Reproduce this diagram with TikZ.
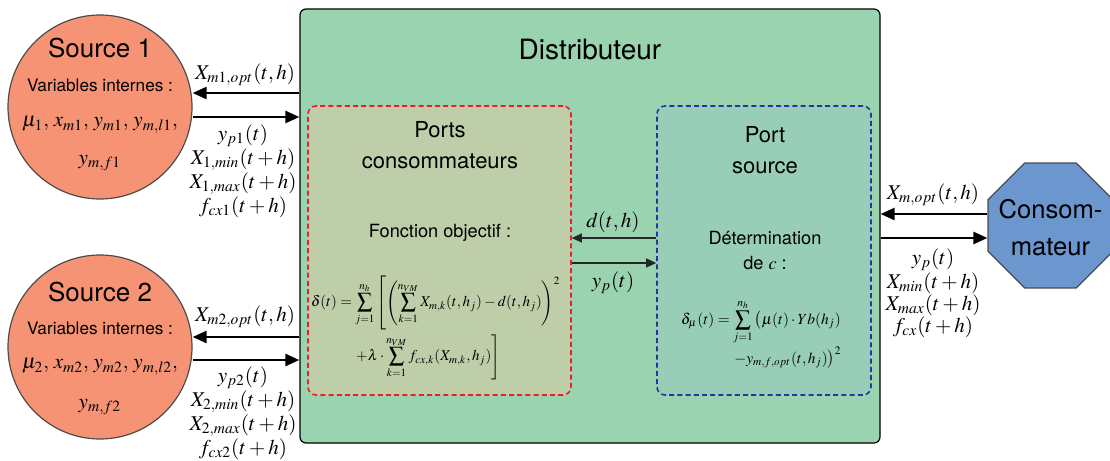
\documentclass[tikz,border=0pt]{standalone}
\usepackage{mathptmx}
\usepackage[no-math]{fontspec}
\setmainfont{TeX Gyre Heros}
\usepackage{graphicx}
\usetikzlibrary{arrows.meta,shapes.geometric}
\definecolor{distgreen}{RGB}{154,211,175}
\definecolor{salmon}{RGB}{246,147,116}
\definecolor{redfill}{RGB}{190,206,168}
\definecolor{bluefill}{RGB}{152,206,184}
\definecolor{consblue}{RGB}{108,150,206}
\definecolor{portred}{RGB}{232,32,40}
\definecolor{portblue}{RGB}{40,52,160}
\tikzset{
  srcbox/.style={circle, draw=black!70, line width=0.6pt, fill=salmon, minimum size=92pt, inner sep=0pt},
  distbox/.style={rectangle, rounded corners=3pt, draw=black, line width=0.6pt, fill=distgreen, inner sep=0pt},
  portbox/.style={rectangle, rounded corners=4pt, line width=0.8pt, dash pattern=on 2.5pt off 1.6pt, inner sep=0pt},
  consbox/.style={regular polygon, regular polygon sides=8, draw=black!70, line width=0.6pt, fill=consblue, minimum size=67.6pt, inner sep=0pt},
  constext/.style={inner sep=0pt, align=center, font=\fontsize{12.8}{18.5}\selectfont},
  bigarrow/.style={-{Triangle[length=7pt,width=6pt]}, line width=1.2pt},
  smallarrow/.style={-{Triangle[length=5pt,width=4.5pt]}, line width=0.55pt, draw=black!85},
  lab/.style={font=\fontsize{10.5}{10.9}\selectfont, inner sep=0pt, align=center},
  bigtitle/.style={font=\fontsize{14}{16}\selectfont, inner sep=0pt},
  srctitle/.style={font=\fontsize{13}{15}\selectfont, inner sep=0pt},
  porttitle/.style={font=\fontsize{11}{15.2}\selectfont, inner sep=0pt, align=center},
  small/.style={font=\fontsize{8.6}{10}\selectfont, inner sep=0pt},
  midtext/.style={font=\fontsize{9.1}{12.5}\selectfont, inner sep=0pt, align=center},
  formula/.style={font=\fontsize{7.5}{9}\selectfont, inner sep=0pt},
  formulab/.style={font=\fontsize{7.7}{9}\selectfont, inner sep=0pt},
}
\begin{document}
\begin{tikzpicture}[x=0.5pt,y=-0.5pt]
\useasboundingbox (0,0) rectangle (1110,461);

% Distributeur
\node[distbox, minimum width=290pt, minimum height=217pt] (dist) at (590,226) {};
\node[bigtitle] (distt) at (590,50) {Distributeur};

% Port boxes
\node[portbox, draw=portred, fill=redfill, minimum width=131.5pt, minimum height=144.5pt] (red) at (439.5,250.5) {};
\node[portbox, draw=portblue, fill=bluefill, minimum width=107pt, minimum height=144.5pt] (blue) at (764,250.5) {};

\node[porttitle] (redt) at (440,145) {Ports\\consommateurs};
\node[midtext] (fobj) at (440,233) {Fonction objectif :};
\node[formula] (f1) at (437,303) {$\displaystyle \delta(t)=\sum_{j=1}^{n_h}\left[\left(\sum_{k=1}^{n_{VM}}X_{m,k}(t,h_j)-d(t,h_j)\right)^{2}\right.$};
\node[formula] (f2) at (427,357) {$\displaystyle \left.+\lambda\cdot\sum_{k=1}^{n_{VM}}f_{cx,k}(X_{m,k},h_j)\right]$};

\node[porttitle] (bluet) at (765,150) {Port\\source};
\node[midtext] (det) at (765,250) {Détermination\\de $c$ :};
\node[formulab] (g1) at (761,322) {$\displaystyle \delta_\mu(t)=\sum_{j=1}^{n_h}\big(\mu(t)\cdot Yb(h_j)$};
\node[formulab] (g2) at (788,358) {$-y_{m,f,opt}(t,h_j)\big)^{2}$};

% middle arrows
\draw[smallarrow] (blue.west |- 600,238) -- (red.east |- 600,238);
\draw[smallarrow] (red.east |- 600,263) -- (blue.west |- 600,263);
\node[lab] (dlab) at (613,222) {$d(t,h)$};
\node[lab] (yplab) at (613,283) {$y_p(t)$};

% Source 1
\node[srcbox] (s1) at (100,107) {};
\node[srctitle] at (100,48) {Source 1};
\node[small] at (100,85) {Variables internes :};
\node[lab] at (100,125) {$\mu_1,\, x_{m1},\, y_{m1},\, y_{m,l1},$};
\node[lab] at (100,163) {$y_{m,f1}$};
\draw[bigarrow] (dist.west |- 0,93) -- (s1.east |- 0,93);
\draw[bigarrow] (s1.east |- 0,117) -- (dist.west |- 0,117);
\node[lab] at (245,75) {$X_{m1,opt}(t,h)$};
\node[lab] at (243,171) {$y_{p1}(t)$\\$X_{1,min}(t+h)$\\$X_{1,max}(t+h)$\\$f_{cx1}(t+h)$};

% Source 2
\node[srcbox] (s2) at (100,347) {};
\node[srctitle] at (100,292) {Source 2};
\node[small] at (100,328) {Variables internes :};
\node[lab] at (100,367) {$\mu_2,\, x_{m2},\, y_{m2},\, y_{m,l2},$};
\node[lab] at (100,407) {$y_{m,f2}$};
\draw[bigarrow] (dist.west |- 0,337) -- (s2.east |- 0,337);
\draw[bigarrow] (s2.east |- 0,360) -- (dist.west |- 0,360);
\node[lab] at (245,317) {$X_{m2,opt}(t,h)$};
\node[lab] at (243,413) {$y_{p2}(t)$\\$X_{2,min}(t+h)$\\$X_{2,max}(t+h)$\\$f_{cx2}(t+h)$};

% Consommateur
\node[consbox] (cons) at (1050.5,225.5) {};
\node[constext] (consl) at (1050.5,228) {Consom-\\mateur};
\draw[bigarrow] (cons.west |- 0,214) -- (dist.east |- 0,214);
\draw[bigarrow] (dist.east |- 0,238) -- (cons.west |- 0,238);
\node[lab] at (933,195) {$X_{m,opt}(t,h)$};
\node[lab] at (933,293) {$y_p(t)$\\$X_{min}(t+h)$\\$X_{max}(t+h)$\\$f_{cx}(t+h)$};
\end{tikzpicture}
\end{document}
